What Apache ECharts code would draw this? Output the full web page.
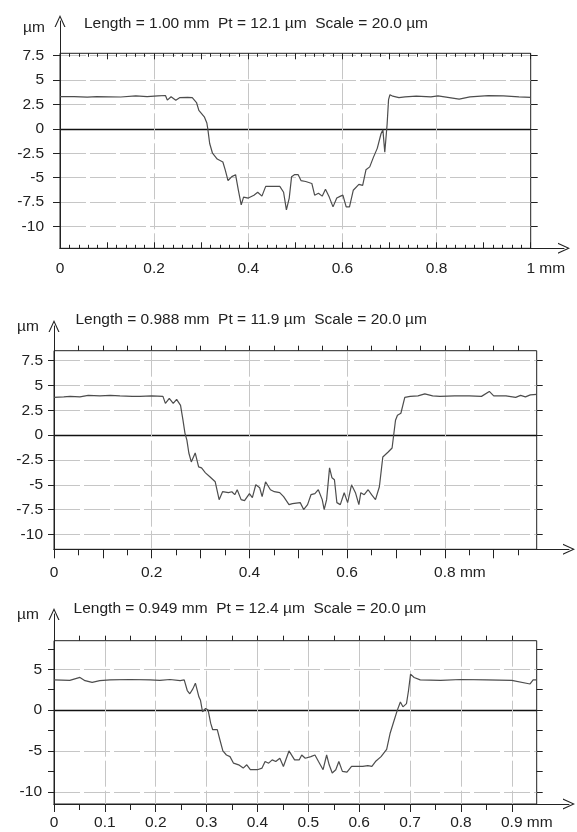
<!DOCTYPE html>
<html>
<head>
<meta charset="utf-8">
<title>surface profiles</title>
<script src="https://cdn.jsdelivr.net/npm/echarts@6/dist/echarts.min.js"></script>
<style>
  html, body { margin: 0; padding: 0; background: #fff; }
  #chart { width: 577px; height: 832px; }
</style>
</head>
<body>
<div id="chart"></div>
<script>
// ---- panel 1 : Length 1.00 mm ----
var p1Title = 'Length = 1.00 mm  Pt = 12.1 µm  Scale = 20.0 µm'
var p1Length = 1.0
var p1YRange = [-12.25, 7.75]
var p1XLabels = [0, 0.2, 0.4, 0.6, 0.8, 1]
var p1YLabels = [7.5, 5, 2.5, 0, -2.5, -5, -7.5, -10]
var p1X = [0.000, 0.030, 0.058, 0.078, 0.129, 0.161, 0.185, 0.208, 0.224, 0.228, 0.236, 0.246, 0.254, 0.271, 0.281, 0.290,
  0.295, 0.307, 0.312, 0.314, 0.318, 0.324, 0.334, 0.346, 0.351, 0.357, 0.365, 0.373, 0.379, 0.385, 0.390, 0.400,
  0.412, 0.420, 0.429, 0.437, 0.451, 0.467, 0.475, 0.481, 0.487, 0.492, 0.498, 0.506, 0.512, 0.522, 0.535, 0.541,
  0.549, 0.557, 0.564, 0.572, 0.580, 0.588, 0.596, 0.601, 0.608, 0.615, 0.623, 0.635, 0.643, 0.650, 0.658, 0.666,
  0.674, 0.682, 0.686, 0.690, 0.695, 0.698, 0.701, 0.707, 0.720, 0.733, 0.757, 0.788, 0.803, 0.848, 0.871, 0.910,
  0.942, 0.975, 1.000]
var p1Y = [3.30, 3.30, 3.25, 3.30, 3.27, 3.38, 3.30, 3.38, 3.42, 2.95, 3.30, 2.94, 3.20, 3.22, 3.20, 2.70,
  1.90, 1.20, 0.60, 0.00, -1.50, -2.50, -3.10, -3.40, -4.20, -5.30, -4.90, -4.70, -6.30, -7.80, -7.00, -7.10,
  -6.80, -6.50, -6.90, -5.90, -5.90, -5.90, -6.50, -8.30, -7.10, -4.90, -4.70, -4.70, -5.30, -5.40, -5.60, -6.80,
  -6.60, -6.90, -6.20, -7.00, -8.00, -7.10, -6.90, -6.80, -8.00, -8.00, -6.30, -5.70, -5.80, -4.20, -3.90, -2.90,
  -2.00, -0.50, -0.10, -2.40, 0.50, 3.00, 3.50, 3.35, 3.20, 3.28, 3.35, 3.28, 3.38, 3.05, 3.28, 3.40,
  3.38, 3.28, 3.22]

// ---- panel 2 : Length 0.988 mm ----
var p2Title = 'Length = 0.988 mm  Pt = 11.9 µm  Scale = 20.0 µm'
var p2Length = 0.988
var p2YRange = [-11.5, 8.5]
var p2XLabels = [0, 0.2, 0.4, 0.6, 0.8]
var p2YLabels = [7.5, 5, 2.5, 0, -2.5, -5, -7.5, -10]
var p2X = [0.000, 0.020, 0.033, 0.053, 0.070, 0.094, 0.115, 0.135, 0.160, 0.176, 0.200, 0.223, 0.228, 0.236, 0.244, 0.251,
  0.259, 0.264, 0.268, 0.272, 0.276, 0.281, 0.289, 0.296, 0.302, 0.310, 0.319, 0.330, 0.338, 0.345, 0.357, 0.364,
  0.370, 0.375, 0.383, 0.390, 0.400, 0.406, 0.413, 0.421, 0.426, 0.433, 0.443, 0.451, 0.462, 0.470, 0.481, 0.488,
  0.492, 0.504, 0.511, 0.519, 0.526, 0.534, 0.541, 0.549, 0.553, 0.558, 0.564, 0.569, 0.574, 0.579, 0.586, 0.594,
  0.601, 0.609, 0.617, 0.624, 0.628, 0.635, 0.643, 0.650, 0.658, 0.666, 0.673, 0.684, 0.692, 0.699, 0.703, 0.710,
  0.718, 0.729, 0.745, 0.759, 0.775, 0.790, 0.820, 0.850, 0.875, 0.891, 0.900, 0.925, 0.945, 0.955, 0.965, 0.975,
  0.988]
var p2Y = [3.80, 3.85, 3.90, 3.85, 4.00, 3.95, 4.00, 3.95, 3.90, 3.90, 3.95, 3.90, 3.20, 3.70, 3.20, 3.60,
  3.00, 1.50, 0.20, -0.50, -1.80, -2.70, -1.80, -3.20, -3.30, -3.80, -4.20, -4.70, -6.50, -5.70, -5.80, -5.70,
  -6.00, -5.50, -6.50, -6.60, -5.90, -6.30, -5.00, -5.30, -6.20, -4.70, -5.50, -5.70, -5.80, -6.20, -7.00, -6.90,
  -6.70, -6.80, -7.50, -7.00, -6.00, -5.90, -5.50, -6.50, -7.50, -6.50, -3.30, -4.30, -4.50, -6.80, -7.00, -5.80,
  -6.80, -5.00, -5.80, -7.00, -5.80, -6.00, -5.50, -6.00, -6.50, -5.20, -2.20, -1.70, -1.30, 1.50, 2.00, 2.20,
  3.80, 3.90, 3.95, 4.15, 3.95, 3.90, 3.95, 3.95, 3.90, 4.40, 3.95, 3.95, 3.80, 4.00, 3.85, 4.05,
  4.10]

// ---- panel 3 : Length 0.949 mm ----
var p3Title = 'Length = 0.949 mm  Pt = 12.4 µm  Scale = 20.0 µm'
var p3Length = 0.949
var p3YRange = [-11.5, 8.5]
var p3XLabels = [0, 0.1, 0.2, 0.3, 0.4, 0.5, 0.6, 0.7, 0.8, 0.9]
var p3YLabels = [5, 0, -5, -10]
var p3YTicks = [7.5, 5, 2.5, 0, -2.5, -5, -7.5, -10]
var p3X = [0.000, 0.031, 0.051, 0.061, 0.075, 0.090, 0.110, 0.149, 0.189, 0.208, 0.228, 0.248, 0.256, 0.262, 0.267, 0.273,
  0.278, 0.285, 0.288, 0.292, 0.298, 0.303, 0.308, 0.312, 0.321, 0.326, 0.332, 0.339, 0.346, 0.353, 0.363, 0.372,
  0.379, 0.386, 0.400, 0.409, 0.415, 0.422, 0.429, 0.436, 0.444, 0.451, 0.462, 0.473, 0.482, 0.487, 0.494, 0.505,
  0.513, 0.520, 0.529, 0.536, 0.541, 0.547, 0.554, 0.560, 0.567, 0.576, 0.585, 0.607, 0.617, 0.625, 0.632, 0.643,
  0.654, 0.661, 0.668, 0.675, 0.681, 0.686, 0.693, 0.697, 0.701, 0.708, 0.720, 0.760, 0.800, 0.850, 0.900, 0.936,
  0.942, 0.949]
var p3Y = [3.70, 3.65, 4.00, 3.60, 3.40, 3.60, 3.70, 3.75, 3.70, 3.65, 3.75, 3.60, 3.70, 2.40, 2.00, 2.60,
  3.30, 1.60, 1.20, -0.20, 0.20, 0.00, -1.60, -2.40, -2.40, -3.60, -5.00, -5.50, -5.70, -6.50, -6.70, -7.10,
  -6.70, -7.30, -7.30, -7.10, -6.30, -6.50, -6.10, -6.30, -5.90, -6.90, -5.00, -6.10, -6.10, -5.50, -5.90, -5.70,
  -5.50, -6.30, -7.30, -5.50, -6.70, -7.70, -7.30, -6.30, -7.50, -7.60, -6.90, -6.90, -6.80, -6.90, -6.30, -5.70,
  -4.80, -2.80, -1.40, 0.00, 1.00, 0.40, 0.80, 2.40, 4.40, 4.00, 3.70, 3.65, 3.75, 3.70, 3.65, 3.20,
  3.70, 3.70]

var panels = [
  { title: p1Title, len: p1Length, yRange: p1YRange, x: p1X, y: p1Y, xLabels: p1XLabels, yLabels: p1YLabels, yTicks: p1YLabels },
  { title: p2Title, len: p2Length, yRange: p2YRange, x: p2X, y: p2Y, xLabels: p2XLabels, yLabels: p2YLabels, yTicks: p2YLabels },
  { title: p3Title, len: p3Length, yRange: p3YRange, x: p3X, y: p3Y, xLabels: p3XLabels, yLabels: p3YLabels, yTicks: p3YTicks }
]

// where each panel sits on the page (px) and how its ticks look
var layout = [
  { left: 60, top: 53.3, width: 470.7, height: 195, unitX: 23, unitTop: 19.5, titleX: 84, titleTop: 16,
    arrowTop: 15, arrowRight: 570, yTick: 7, yLabelMargin: 16, xLabelMargin: 12,
    xTicks: [{ pos: 'bottom', step: 0.1, len: 6, inside: true }, { pos: 'bottom', step: 0.02, len: 3.5, inside: true },
             { pos: 'top', step: 0.1, len: 6, inside: true }, { pos: 'top', step: 0.02, len: 3.5, inside: true }] },
  { left: 54, top: 350.7, width: 482.7, height: 198.6, unitX: 17, unitTop: 318.5, titleX: 75.5, titleTop: 311.5,
    arrowTop: 320, arrowRight: 575, yTick: 6, yLabelMargin: 11, xLabelMargin: 15,
    xTicks: [{ pos: 'bottom', step: 0.1, len: 9 }, { pos: 'bottom', step: 0.05, len: 6 }, { pos: 'top', step: 0.05, len: 5 }] },
  { left: 54, top: 640.7, width: 482.7, height: 163.3, unitX: 17, unitTop: 606.5, titleX: 73.6, titleTop: 601,
    arrowTop: 608, arrowRight: 575, yTick: 6, yLabelMargin: 12, xLabelMargin: 11,
    xTicks: [{ pos: 'bottom', step: 0.1, len: 8 }, { pos: 'bottom', step: 0.05, len: 6 }, { pos: 'top', step: 0.05, len: 5 }] }
]

var W = 577, H = 832
var INK = '#222'
var FONT = "'Liberation Sans', Arial, sans-serif"
var FS = 15.5
var TXT = { color: INK, fontSize: FS, fontWeight: 'normal', fontFamily: FONT }
var GRIDLINE = { color: '#c6c6c6', width: 1, type: [26, 4] }
// open chevron, drawn pointing up; echarts turns it for the x axis
var ARROW = 'path://M0,24L11,0L22,24L19.6,24L11,5L2.4,24Z'

var grid = [], xAxis = [], yAxis = [], series = [], title = []

function steps(a, b, s) {
  var out = []
  for (var i = 0; a + i * s <= b + 1e-9; i++) out.push(+(a + i * s).toFixed(4))
  return out
}

// bare value axis, everything off; caller switches on what it needs
function bare(extra) {
  return Object.assign({
    type: 'value',
    axisLine: { show: false, onZero: false },
    axisTick: { show: false },
    axisLabel: { show: false },
    splitLine: { show: false }
  }, extra)
}

function tickAxis(g, dim, pos, range, vals, len, inside) {
  var a = bare({
    gridIndex: g, position: pos, min: range[0], max: range[1],
    axisTick: { show: true, customValues: vals, length: len, inside: !!inside, lineStyle: { color: INK, width: 1 } }
  })
  ;(dim === 'x' ? xAxis : yAxis).push(a)
}

function addPanel(p, L) {
  var g = grid.length
  grid.push({ left: L.left, top: L.top, width: L.width, height: L.height, show: true, borderColor: INK, borderWidth: 1 })

  var lastX = p.xLabels[p.xLabels.length - 1]
  var xMain = xAxis.length
  xAxis.push(bare({
    gridIndex: g, position: 'bottom', min: 0, max: p.len,
    axisLine: { show: true, onZero: false, lineStyle: { color: INK, width: 1 } },
    // gridlines only inside the box, not on the frame
    axisTick: { show: false, customValues: p.xLabels.filter(function (v) { return v > 0 && v < p.len }) },
    axisLabel: { show: true, customValues: p.xLabels, margin: L.xLabelMargin, color: INK, fontSize: FS, fontFamily: FONT },
    splitLine: { show: true, lineStyle: GRIDLINE }
  }))
  // the "mm" after the last number lives on its own axis so the overlap check leaves the numbers alone;
  // the hidden part keeps the visible " mm" just right of the number
  xAxis.push(bare({
    gridIndex: g, position: 'bottom', min: 0, max: p.len,
    axisLabel: {
      show: true, customValues: [lastX], margin: L.xLabelMargin, color: INK, fontSize: FS, fontFamily: FONT,
      formatter: function (v) { return '{h|mm ' + v + '} mm' },
      rich: { h: { color: 'rgba(0,0,0,0)', fontSize: FS, fontFamily: FONT } }
    }
  }))
  L.xTicks.forEach(function (t) {
    tickAxis(g, 'x', t.pos, [0, p.len], steps(0, p.len, t.step), t.len, t.inside)
  })

  var yMain = yAxis.length
  yAxis.push(bare({
    gridIndex: g, position: 'left', min: p.yRange[0], max: p.yRange[1],
    axisLine: { show: true, onZero: false, lineStyle: { color: INK, width: 1 } },
    axisTick: { show: true, customValues: p.yTicks, length: L.yTick, lineStyle: { color: INK } },
    axisLabel: { show: true, customValues: p.yLabels, margin: L.yLabelMargin, color: INK, fontSize: FS, fontFamily: FONT }
  }))
  tickAxis(g, 'y', 'right', p.yRange, p.yTicks, L.yTick, false)
  // horizontal grid lines (not at 0, that one is black)
  yAxis.push(bare({
    gridIndex: g, position: 'left', min: p.yRange[0], max: p.yRange[1],
    axisTick: { show: false, customValues: p.yLabels.filter(function (v) { return v !== 0 }) },
    splitLine: { show: true, lineStyle: GRIDLINE }
  }))
  yAxis.push(bare({
    gridIndex: g, position: 'left', min: p.yRange[0], max: p.yRange[1],
    axisTick: { show: false, customValues: [0] },
    splitLine: { show: true, lineStyle: { color: '#111', width: 1.3 } }
  }))

  series.push({
    type: 'line', xAxisIndex: xMain, yAxisIndex: yMain,
    data: p.x.map(function (v, i) { return [v, p.y[i]] }),
    symbol: 'none', showSymbol: false, silent: true,
    lineStyle: { color: '#4d4d4d', width: 1.2 }
  })

  // outer axis lines with the open arrow heads
  var fg = grid.length
  grid.push({ left: L.left, top: L.arrowTop + 6, right: W - (L.arrowRight - 6), bottom: H - (L.top + L.height) })
  xAxis.push(bare({
    gridIndex: fg, position: 'bottom', min: 0, max: 1,
    axisLine: { show: true, onZero: false, symbol: ['none', ARROW], symbolSize: [11, 12], lineStyle: { color: INK, width: 1 } }
  }))
  yAxis.push(bare({
    gridIndex: fg, position: 'left', min: 0, max: 1,
    axisLine: { show: true, onZero: false, symbol: ['none', ARROW], symbolSize: [11, 12], lineStyle: { color: INK, width: 1 } }
  }))

  title.push({ text: 'µm', left: L.unitX, top: L.unitTop, padding: 0, textStyle: TXT })
  title.push({ text: p.title, left: L.titleX, top: L.titleTop, padding: 0, textStyle: TXT })
}

panels.forEach(function (p, i) { addPanel(p, layout[i]) })

var chart = echarts.init(document.getElementById('chart'), null, { renderer: 'canvas' })
chart.setOption({
  animation: false,
  backgroundColor: '#fff',
  title: title,
  grid: grid,
  xAxis: xAxis,
  yAxis: yAxis,
  series: series
})
</script>
</body>
</html>
